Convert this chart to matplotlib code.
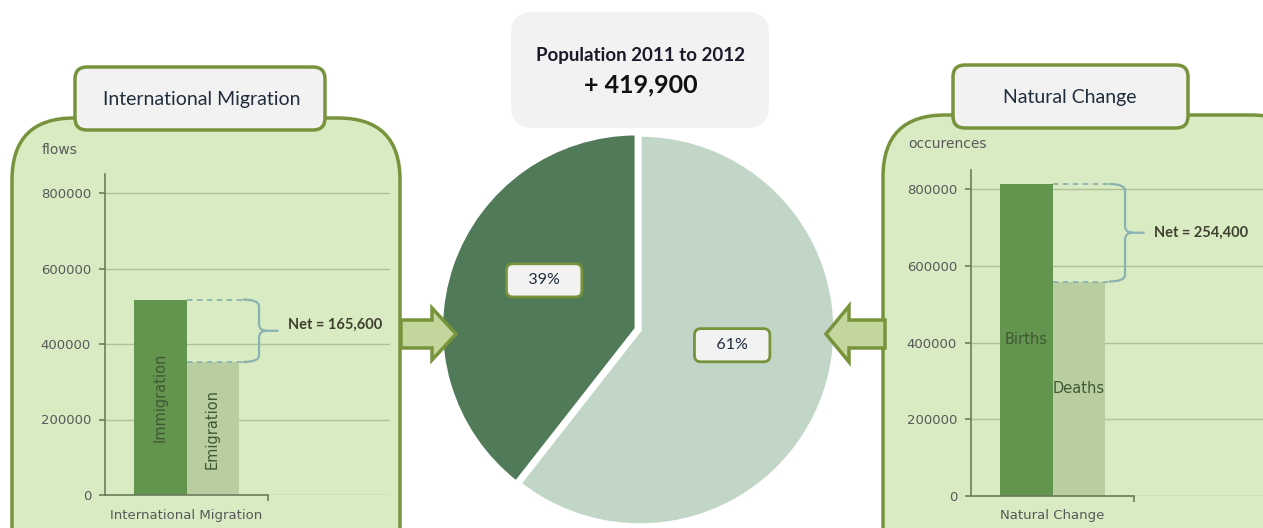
import matplotlib.pyplot as plt
import numpy as np
from matplotlib.patches import FancyBboxPatch, FancyArrow, PathPatch
from matplotlib.path import Path

# Figure size in pixels
W, H = 1263, 528

# International migration flows
mig_labels = ['Immigration', 'Emigration']
mig_values = [517800, 352200]

# Natural change occurences
nat_labels = ['Births', 'Deaths']
nat_values = [813200, 558800]

y_ticks = [0, 200000, 400000, 600000, 800000]

mig_net = mig_values[0] - mig_values[1]
nat_net = nat_values[0] - nat_values[1]

# Pie: share of the population growth
pie_values = [nat_net, mig_net]

# Colours
PANEL_FC = '#D9EBC3'
PANEL_EC = '#77933C'
BOX_FC = '#F2F2F2'
DARK_BAR = '#64954F'
LIGHT_BAR = '#B8CEA0'
GRID = '#AFC196'
AXIS = '#6B7D5A'
TICK_TXT = '#595959'
BRACE = '#8AB2B2'
PIE_COLORS = ['#C1D6C6', '#517A58']

TITLE_FONT = ['Lato', 'DejaVu Sans']

fig = plt.figure(figsize=(W / 100, H / 100), dpi=100)

# background layer in pixel coordinates
bg = fig.add_axes([0, 0, 1, 1], zorder=0)
bg.set_xlim(0, W)
bg.set_ylim(H, 0)
bg.axis('off')

def rbox(ax, x, y, w, h, r, fc, ec, lw):
    p = FancyBboxPatch((x, y), w, h, boxstyle=f'round,pad=0,rounding_size={r}',
                       fc=fc, ec=ec, lw=lw)
    ax.add_patch(p)

# panels
rbox(bg, 12, 118, 388, 480, 62, PANEL_FC, PANEL_EC, 2.5)
rbox(bg, 883, 115, 430, 480, 62, PANEL_FC, PANEL_EC, 2.5)
rbox(bg, 75, 67, 250, 63, 12, BOX_FC, PANEL_EC, 2.5)
rbox(bg, 953, 65, 235, 63, 12, BOX_FC, PANEL_EC, 2.5)
rbox(bg, 511, 12, 258, 116, 22, BOX_FC, 'none', 0)

bg.text(202, 99, 'International Migration', ha='center', va='center',
        fontsize=14, family=TITLE_FONT, color='#1F2D3D')
bg.text(1070, 97, 'Natural Change', ha='center', va='center',
        fontsize=14, family=TITLE_FONT, color='#1F2D3D')
bg.text(641, 55, 'Population 2011 to 2012', ha='center', va='center',
        fontsize=13.5, fontweight='bold', family=TITLE_FONT, color='#1A1A2A')
bg.text(641, 85, '+ 419,900', ha='center', va='center',
        fontsize=18, fontweight='bold', family=TITLE_FONT, color='#111111')
bg.text(42, 150, 'flows', ha='left', va='center', fontsize=10, color=TICK_TXT)
bg.text(908, 144, 'occurences', ha='left', va='center', fontsize=10, color=TICK_TXT)


def brace(ax, xs, xb, xtip, ytop, ybot, r):
    ym = (ytop + ybot) / 2
    verts = [(xs, ytop), (xb, ytop), (xb, ytop - r),
             (xb, ym + r),
             (xb, ym), (xb + (xtip - xb) * 0.4, ym),
             (xtip, ym),
             (xb + (xtip - xb) * 0.4, ym), (xb, ym), (xb, ym - r),
             (xb, ybot + r),
             (xb, ybot), (xs, ybot)]
    codes = [Path.MOVETO, Path.CURVE3, Path.CURVE3,
             Path.LINETO,
             Path.CURVE3, Path.CURVE3,
             Path.LINETO,
             Path.MOVETO, Path.CURVE3, Path.CURVE3,
             Path.LINETO,
             Path.CURVE3, Path.CURVE3]
    ax.add_patch(PathPatch(Path(verts, codes), fc='none', ec=BRACE, lw=1.6,
                           clip_on=False))


def bar_panel(rect, labels, values, xlabel, rotate, net_dy):
    ax = fig.add_axes(rect, zorder=2)
    ax.set_facecolor('none')
    w = 0.32
    xs = [0.5 - w / 2, 0.5 + w / 2]
    ax.bar(xs, values, width=w, color=[DARK_BAR, LIGHT_BAR], zorder=2)
    ax.set_xlim(0, rect[2] * W / 163)
    ax.set_ylim(0, 850000)
    ax.set_yticks(y_ticks)
    ax.set_yticklabels([str(t) for t in y_ticks])
    ax.set_xticks([1])
    ax.set_xticklabels([''])
    ax.yaxis.grid(True, color=GRID, lw=1)
    ax.set_axisbelow(True)
    for s in ['top', 'right']:
        ax.spines[s].set_visible(False)
    ax.spines['left'].set_color(AXIS)
    ax.spines['bottom'].set_color(AXIS)
    ax.spines['left'].set_linewidth(1.2)
    ax.spines['bottom'].set_linewidth(1.2)
    ax.spines['bottom'].set_bounds(0, 1)
    ax.tick_params(axis='both', colors=AXIS, labelcolor=TICK_TXT, labelsize=9.5,
                   length=4, width=1.2)
    ax.tick_params(axis='y', pad=6)
    ax.annotate(xlabel, xy=(0.5, 0), xycoords=('data', 'axes fraction'),
                xytext=(0, -20), textcoords='offset pixels', ha='center',
                va='center', fontsize=9.5, color=TICK_TXT)
    for x, lab, v in zip(xs, labels, values):
        ax.text(x, v / 2, lab, ha='center', va='center', fontsize=10.5,
                rotation=90 if rotate else 0, color='#3F5833')
    # net bracket
    mid = xs[0] + w / 2
    xb = 0.945
    xs0 = xb - 0.1
    for v in values:
        ax.plot([mid, xs0], [v, v], ls=(0, (3, 2.5)), color=BRACE, lw=1.3, zorder=3)
    brace(ax, xs0, xb, xb + 0.12, values[0], values[1], 18000)
    net = values[0] - values[1]
    ax.text(xb + 0.18, (values[0] + values[1]) / 2 + net_dy, f'Net = {net:,}',
            ha='left', va='center', fontsize=10.5, fontweight='bold',
            family=TITLE_FONT, color='#404030')
    return ax


px_l = 75.5 / 200000
px_r = 76.75 / 200000
bar_panel([105 / W, (H - 495) / H, 285 / W, 850000 * px_l / H],
          mig_labels, mig_values, 'International Migration', True, 15000)
bar_panel([971 / W, (H - 496) / H, 292 / W, 850000 * px_r / H],
          nat_labels, nat_values, 'Natural Change', False, 0)

# pie
R = 195
half = 1.1 * R
pax = fig.add_axes([(640 - half) / W, (H - 330 - half) / H, 2 * half / W, 2 * half / H],
                   zorder=3)
wedges, texts, autotexts = pax.pie(
    pie_values, colors=PIE_COLORS, startangle=90, counterclock=False,
    explode=[0, 0.02], autopct=lambda p: f'   {p:.0f}%   ', pctdistance=0.5,
    wedgeprops=dict(edgecolor='white', linewidth=2.5),
    textprops=dict(fontsize=11.5, family=TITLE_FONT, color='#1F2D3D'))
for t in autotexts:
    x, y = t.get_position()
    t.set_position((x, y + 0.085))
    t.set_bbox(dict(boxstyle='round,pad=0.6,rounding_size=0.4', fc=BOX_FC,
                    ec=PANEL_EC, lw=2))
pax.set_xlim(-1.1, 1.1)
pax.set_ylim(-1.1, 1.1)
pax.set_aspect('equal')

# arrows on top
top = fig.add_axes([0, 0, 1, 1], zorder=4)
top.set_xlim(0, W)
top.set_ylim(H, 0)
top.axis('off')
top.add_patch(FancyArrow(401, 334, 55, 0, width=28, head_width=52, head_length=24,
                         length_includes_head=True, fc='#C3D69B', ec=PANEL_EC, lw=2.5))
top.add_patch(FancyArrow(885, 334, -59, 0, width=28, head_width=56, head_length=23,
                         length_includes_head=True, fc='#C3D69B', ec=PANEL_EC, lw=2.5))

plt.savefig('out.png', dpi=100)
